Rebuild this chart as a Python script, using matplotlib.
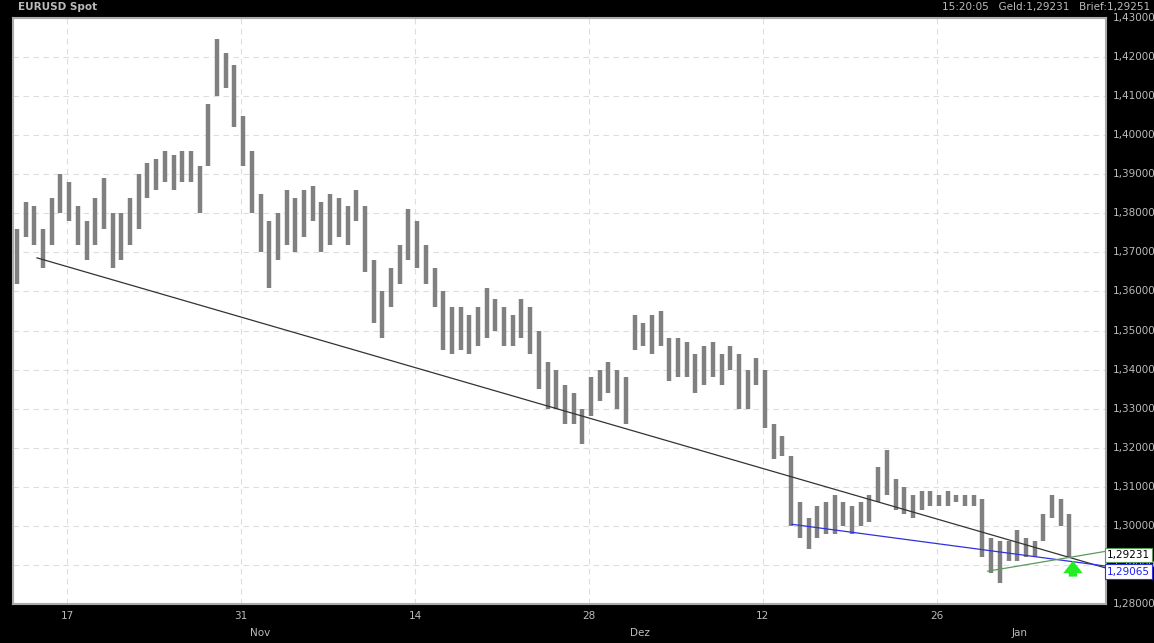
import matplotlib
matplotlib.use("Agg")
import matplotlib.pyplot as plt

lows = [1.362,1.374,1.372,1.366,1.372,1.380,1.378,1.372,1.368,1.372,1.376,1.366,1.368,1.372,1.376,1.384,1.386,1.388,1.386,1.388,
        1.388,1.380,1.392,1.410,1.412,1.402,1.392,1.380,1.370,1.361,1.368,1.372,1.370,1.374,1.378,1.370,1.372,1.374,1.372,1.378,
        1.365,1.352,1.348,1.356,1.362,1.368,1.366,1.362,1.356,1.345,1.344,1.345,1.344,1.346,1.348,1.350,1.346,1.346,1.348,1.344,
        1.335,1.330,1.330,1.326,1.326,1.321,1.328,1.332,1.334,1.330,1.326,1.345,1.346,1.344,1.346,1.337,1.338,1.338,1.334,1.336,
        1.338,1.336,1.340,1.330,1.330,1.336,1.325,1.317,1.318,1.300,1.297,1.294,1.297,1.298,1.298,1.300,1.298,1.300,1.301,1.306,
        1.308,1.304,1.303,1.302,1.304,1.305,1.305,1.305,1.306,1.305,1.305,1.292,1.288,1.2855,1.291,1.291,1.292,1.292,1.296,1.302,
        1.300,1.292]
highs = [1.376,1.383,1.382,1.376,1.384,1.390,1.388,1.382,1.378,1.384,1.389,1.380,1.380,1.384,1.390,1.393,1.394,1.396,1.395,1.396,
         1.396,1.392,1.408,1.4245,1.421,1.418,1.405,1.396,1.385,1.378,1.380,1.386,1.384,1.386,1.387,1.383,1.385,1.384,1.382,1.386,
         1.382,1.368,1.360,1.366,1.372,1.381,1.378,1.372,1.366,1.360,1.356,1.356,1.354,1.356,1.361,1.358,1.356,1.354,1.358,1.356,
         1.350,1.342,1.340,1.336,1.334,1.330,1.338,1.340,1.342,1.340,1.338,1.354,1.352,1.354,1.355,1.348,1.348,1.347,1.344,1.346,
         1.347,1.344,1.346,1.344,1.340,1.343,1.340,1.326,1.323,1.318,1.306,1.302,1.305,1.306,1.308,1.306,1.305,1.306,1.308,1.315,
         1.3195,1.312,1.310,1.308,1.309,1.309,1.308,1.309,1.308,1.308,1.308,1.307,1.297,1.296,1.296,1.299,1.297,1.296,1.303,1.308,
         1.307,1.303]

day_labels = ["17", "31", "14", "28", "12", "26"]
month_labels = ["Nov", "Dez", "Jan"]
ytick_vals = [1.28 + 0.01 * k for k in range(16)]
black_line = [(2.3, 1.3686), (125.2, 1.2892)]
blue_line = [(89.1, 1.3004), (125.2, 1.2897)]
green_line = [(111.6, 1.2884), (125.2, 1.2935)]

W, H = 1154, 643
fig = plt.figure(figsize=(W / 100, H / 100), dpi=100, facecolor="black")
ax = fig.add_axes([13 / W, 39 / H, (1106 - 13) / W, (604 - 18) / H])
ax.set_facecolor("white")
xmin, xmax = -0.46, 125.2
ax.set_xlim(xmin, xmax)
ax.set_ylim(1.28, 1.43)

mondays = [5.75 + 20 * k for k in range(6)]
for m in mondays:
    ax.axvline(m, color="#dddddd", lw=0.8, ls=(0, (5, 4)), zorder=0)
for v in ytick_vals:
    ax.axhline(v, color="#dddddd", lw=0.8, ls=(0, (5, 4)), zorder=0)

xs = list(range(len(lows)))
ax.vlines(xs, lows, highs, color="#808080", lw=3.2, zorder=2)

for line, c in [(black_line, "#333333"), (blue_line, "#3030e0"), (green_line, "#5a9a5a")]:
    ax.plot([line[0][0], line[1][0]], [line[0][1], line[1][1]], color=c, lw=0.9, zorder=3, clip_on=False)

ax.annotate("", xy=(121.4, 1.2918), xytext=(121.4, 1.2863),
            arrowprops=dict(arrowstyle="simple,head_width=1.4,head_length=0.9,tail_width=0.6", color="#22ee22", lw=0))

ax.set_xticks([])
ax.set_yticks([])
for s in ax.spines.values():
    s.set_color("#aaaaaa")
    s.set_linewidth(1.5)

for m, lab in zip(mondays, day_labels):
    ax.text(m, -0.012, lab, transform=ax.get_xaxis_transform(), ha="center", va="top", color="#bbbbbb", fontsize=7.5)
for xp, lab in zip([260, 640, 1020], month_labels):
    fig.text(xp / W, 1 - 633 / H, lab, ha="center", va="center", color="#bbbbbb", fontsize=7.5)

for v in ytick_vals:
    ax.text(1.006, (v - 1.28) / 0.15, f"{v:.5f}".replace(".", ","), transform=ax.transAxes,
            ha="left", va="center", color="#bbbbbb", fontsize=7.5)

ax.text(1.001, (1.2925 - 1.28) / 0.15, "1,29231", transform=ax.transAxes, ha="left", va="center",
        color="black", fontsize=7.5, bbox=dict(boxstyle="square,pad=0.2", fc="white", ec="#5a9a5a", lw=0.8))
ax.text(1.001, (1.2883 - 1.28) / 0.15, "1,29065", transform=ax.transAxes, ha="left", va="center",
        color="#2020ee", fontsize=7.5, bbox=dict(boxstyle="square,pad=0.2", fc="white", ec="#3030e0", lw=0.8))

fig.text(18 / W, 1 - 7 / H, "EURUSD Spot", ha="left", va="center", color="#bbbbbb", fontsize=7.5, fontweight="bold")
fig.text(1150 / W, 1 - 7 / H, "15:20:05   Geld:1,29231   Brief:1,29251", ha="right", va="center", color="#bbbbbb", fontsize=7.5)

fig.savefig("out.png", dpi=100, facecolor="black")
